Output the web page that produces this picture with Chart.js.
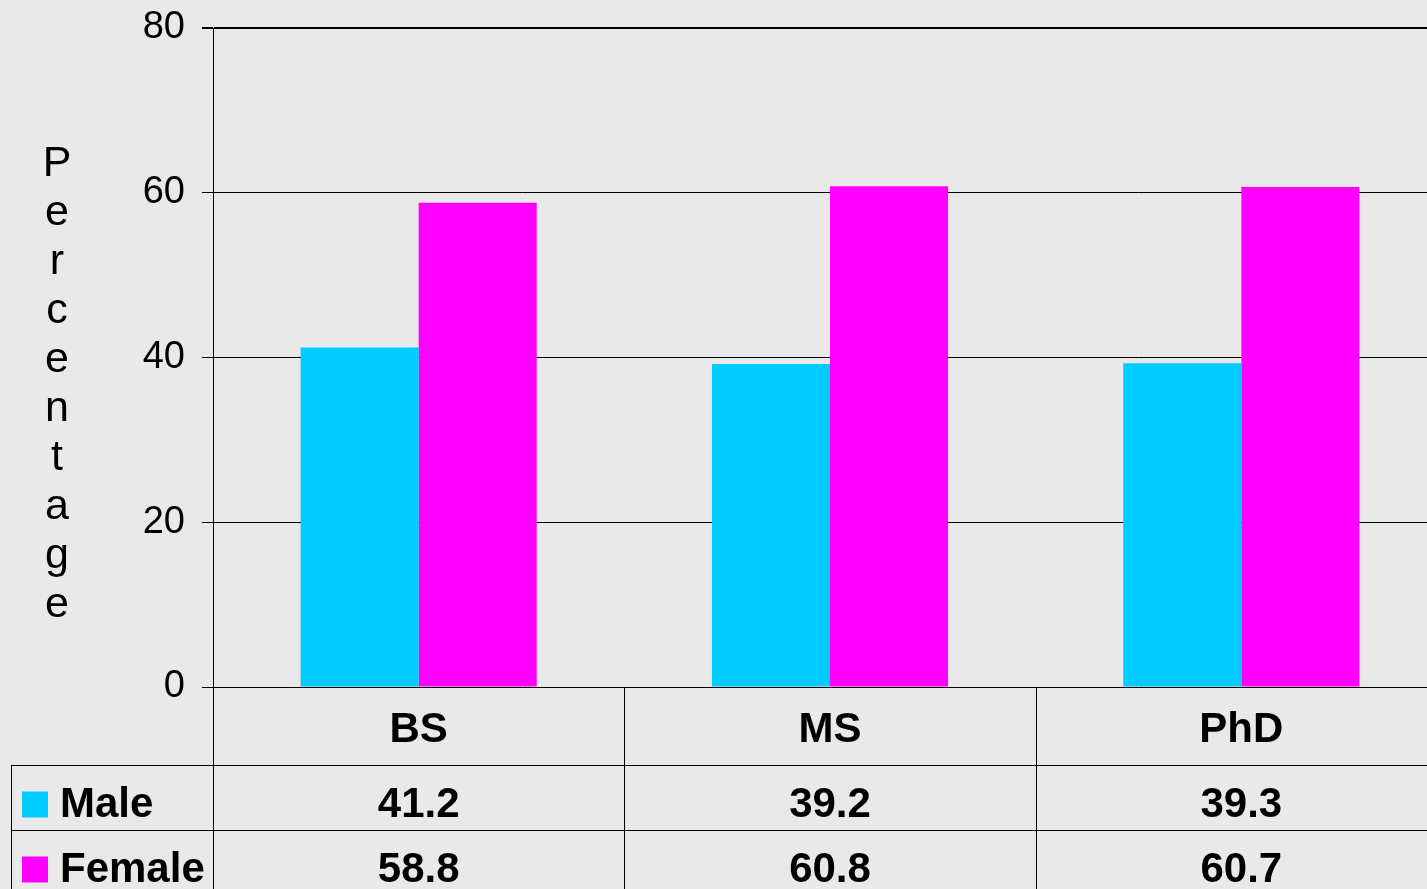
<!DOCTYPE html>
<html>
<head>
<meta charset="utf-8">
<script src="https://cdn.jsdelivr.net/npm/chart.js@4/dist/chart.umd.min.js"></script>
<style>
  html, body { margin: 0; padding: 0; background: #e9e9e9; overflow: hidden; }
  #wrap { width: 1447px; height: 889px; }
</style>
</head>
<body>
<div id="wrap"><canvas id="degreeChart" width="1447" height="889"></canvas></div>
<script>
// -----------------------------
// Data
// -----------------------------
const categories = ['BS', 'MS', 'PhD'];
const maleValues = [41.2, 39.2, 39.3];
const femaleValues = [58.8, 60.8, 60.7];
const seriesNames = ['Male', 'Female'];
const seriesColors = ['#00ccff', '#ff00ff'];
const yTicks = [0, 20, 40, 60, 80];
const yTitle = 'Percentage';

const FONT = '"Liberation Sans", Arial, sans-serif';

// -----------------------------
// Y title drawn as stacked letters
// -----------------------------
const stackedTitle = {
    id: 'stackedTitle',
    afterDraw(chart) {
        const ctx = chart.ctx;
        const area = chart.chartArea;
        ctx.save();
        ctx.fillStyle = '#000';
        ctx.font = '43px ' + FONT;
        ctx.textAlign = 'center';
        ctx.textBaseline = 'middle';
        const letters = yTitle.split('');
        const step = 49;
        const mid = (area.top + area.bottom) / 2 + 27;
        const start = mid - step * (letters.length - 1) / 2;
        letters.forEach((ch, i) => ctx.fillText(ch, 57, start + i * step));
        ctx.restore();
    }
};

// -----------------------------
// Data table under the plot
// -----------------------------
const dataTable = {
    id: 'dataTable',
    afterDraw(chart) {
        const ctx = chart.ctx;
        const area = chart.chartArea;
        const xs = chart.scales.x;
        const H = chart.height;
        const W = chart.width;
        const row1 = area.bottom + 78;
        const row2 = row1 + 65;
        const rowH = 65;
        const half = (xs.getPixelForValue(1) - xs.getPixelForValue(0)) / 2;

        ctx.save();
        ctx.strokeStyle = '#000';
        ctx.lineWidth = 1;

        // vertical separators
        const bounds = categories.map((c, i) => xs.getPixelForValue(i) - half);
        bounds.push(xs.getPixelForValue(categories.length - 1) + half);
        ctx.beginPath();
        bounds.forEach(x => {
            ctx.moveTo(Math.round(x) + 0.5, area.bottom);
            ctx.lineTo(Math.round(x) + 0.5, H);
        });
        ctx.moveTo(11.5, row1);
        ctx.lineTo(11.5, H);
        // horizontal separators
        ctx.moveTo(11, row1 + 0.5);
        ctx.lineTo(W, row1 + 0.5);
        ctx.moveTo(11, row2 + 0.5);
        ctx.lineTo(W, row2 + 0.5);
        ctx.stroke();

        ctx.fillStyle = '#000';
        ctx.font = 'bold 42px ' + FONT;
        ctx.textBaseline = 'middle';
        ctx.textAlign = 'center';
        categories.forEach((c, i) => {
            ctx.fillText(c, xs.getPixelForValue(i), (area.bottom + row1) / 2 + 4);
        });

        const rows = [maleValues, femaleValues];
        rows.forEach((vals, r) => {
            const cy = row1 + r * rowH + rowH / 2 + 7;
            ctx.fillStyle = seriesColors[r];
            ctx.fillRect(22, cy - 13, 26, 26);
            ctx.fillStyle = '#000';
            ctx.textAlign = 'left';
            ctx.fillText(seriesNames[r], 60, cy + 1);
            ctx.textAlign = 'center';
            vals.forEach((v, i) => ctx.fillText(v.toFixed(1), xs.getPixelForValue(i), cy + 1));
        });
        ctx.restore();
    }
};

// -----------------------------
// Chart
// -----------------------------
const ctx = document.getElementById('degreeChart').getContext('2d');
new Chart(ctx, {
    type: 'bar',
    data: {
        labels: categories,
        datasets: [
            {
                label: seriesNames[0],
                data: maleValues,
                backgroundColor: seriesColors[0],
                categoryPercentage: 0.574,
                barPercentage: 1
            },
            {
                label: seriesNames[1],
                data: femaleValues,
                backgroundColor: seriesColors[1],
                categoryPercentage: 0.574,
                barPercentage: 1
            }
        ]
    },
    options: {
        responsive: false,
        animation: false,
        devicePixelRatio: 1,
        layout: { padding: { top: 28, bottom: 202, left: 0, right: 0 } },
        plugins: {
            legend: { display: false },
            tooltip: { enabled: false }
        },
        scales: {
            x: {
                display: false,
                offset: true
            },
            y: {
                min: 0,
                max: 80,
                afterFit(scale) {
                    scale.width = 213;
                    scale.paddingTop = 0;
                    scale.paddingBottom = 0;
                },
                afterBuildTicks(scale) { scale.ticks = yTicks.map(v => ({ value: v })); },
                ticks: {
                    color: '#000',
                    font: { family: FONT, size: 38 },
                    padding: 17
                },
                grid: {
                    color: '#000',
                    lineWidth: c => (c.tick && c.tick.value === 80 ? 2 : 1),
                    tickLength: 11,
                    drawTicks: true
                },
                border: { display: true, color: '#000', width: 1 }
            }
        }
    },
    plugins: [stackedTitle, dataTable]
});
</script>
</body>
</html>
